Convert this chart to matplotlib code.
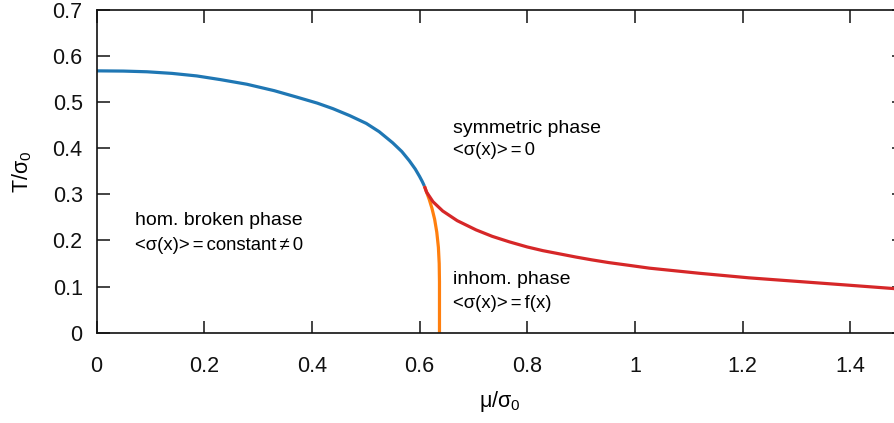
import matplotlib
matplotlib.use("Agg")
import matplotlib.pyplot as plt

plt.rcParams['font.family'] = ['Liberation Sans', 'DejaVu Sans']
plt.rcParams['mathtext.fontset'] = 'custom'
plt.rcParams['mathtext.rm'] = 'Liberation Sans'
plt.rcParams['mathtext.it'] = 'Liberation Sans:italic'

# Homogeneous broken -> symmetric (second order line)
mu_hom = [0.0, 0.05, 0.0935, 0.14, 0.186, 0.23, 0.279, 0.33, 0.372, 0.41, 0.439, 0.47, 0.501,
          0.525, 0.55, 0.567, 0.581, 0.592, 0.600, 0.605, 0.609]
T_hom = [0.568, 0.5675, 0.566, 0.5625, 0.557, 0.549, 0.539, 0.525, 0.511, 0.498, 0.486, 0.471,
         0.454, 0.436, 0.412, 0.393, 0.373, 0.355, 0.339, 0.328, 0.318]

# Inhomogeneous -> symmetric
mu_sym = [0.609, 0.613, 0.625, 0.643, 0.67, 0.705, 0.735, 0.767, 0.8, 0.829, 0.86, 0.891,
          0.92, 0.952, 0.99, 1.027, 1.119, 1.212, 1.305, 1.398, 1.478, 1.50]
T_sym = [0.318, 0.305, 0.284, 0.264, 0.243, 0.223, 0.209, 0.197, 0.186, 0.178, 0.171, 0.164,
         0.158, 0.152, 0.146, 0.140, 0.129, 0.119, 0.111, 0.103, 0.096, 0.094]

# Homogeneous broken -> inhomogeneous
mu_inh = [0.609, 0.613, 0.618, 0.623, 0.628, 0.632, 0.635, 0.6365, 0.637, 0.637]
T_inh = [0.318, 0.305, 0.289, 0.270, 0.246, 0.218, 0.185, 0.150, 0.110, 0.0]

xticks = [0, 0.2, 0.4, 0.6, 0.8, 1.0, 1.2, 1.4]
xticklabels = ['0', '0.2', '0.4', '0.6', '0.8', '1', '1.2', '1.4']
yticks = [0, 0.1, 0.2, 0.3, 0.4, 0.5, 0.6, 0.7]
yticklabels = ['0', '0.1', '0.2', '0.3', '0.4', '0.5', '0.6', '0.7']

W, H = 894, 423
fig = plt.figure(figsize=(W / 100, H / 100), dpi=100)
left, right, bottom, top = 96.6, 904.0, 332.7, 10.0
ax = fig.add_axes([left / W, (H - bottom) / H, (right - left) / W, (bottom - top) / H])

lw = 2.3
ax.plot(mu_hom, T_hom, color='#1f77b4', lw=lw, solid_capstyle='butt', solid_joinstyle='round')
ax.plot(mu_inh, T_inh, color='#ff7f0e', lw=lw, solid_capstyle='butt', solid_joinstyle='round')
ax.plot(mu_sym, T_sym, color='#d62728', lw=lw, solid_capstyle='butt', solid_joinstyle='round')

ax.set_xlim(0, 1.5)
ax.set_ylim(0, 0.7)
ax.set_xticks(xticks)
ax.set_xticklabels(xticklabels)
ax.set_yticks(yticks)
ax.set_yticklabels(yticklabels)

for s in ax.spines.values():
    s.set_linewidth(1.2)
    s.set_color('#111111')
ax.tick_params(direction='in', length=9, width=1.1, top=True, right=True,
               labelsize=15.5, colors='#111111')
ax.tick_params(axis='x', pad=17)
ax.tick_params(axis='y', pad=10)

ax.set_xlabel('μ/σ$_0$', fontsize=15.5)
ax.set_ylabel('T/σ$_0$', fontsize=15.5)
ax.xaxis.set_label_coords(0.5, -0.175)
ax.yaxis.set_label_coords(-0.078, 0.5)

fs = 14
fs2 = 13.3
hs = '\u2006'
ax.text(0.663, 0.4325, 'symmetric phase', fontsize=fs, va='baseline', ha='left')
ax.text(0.663, 0.3855, f'<σ(x)>{hs}={hs}0', fontsize=fs2, va='baseline', ha='left')
ax.text(0.0712, 0.2336, 'hom. broken phase', fontsize=fs, va='baseline', ha='left')
ax.text(0.0712, 0.179, f'<σ(x)>{hs}={hs}constant{hs}≠{hs}0', fontsize=fs2, va='baseline', ha='left')
ax.text(0.663, 0.1056, 'inhom. phase', fontsize=fs, va='baseline', ha='left')
ax.text(0.663, 0.053, f'<σ(x)>{hs}={hs}f(x)', fontsize=fs2, va='baseline', ha='left')

fig.savefig('out.png', dpi=100)
